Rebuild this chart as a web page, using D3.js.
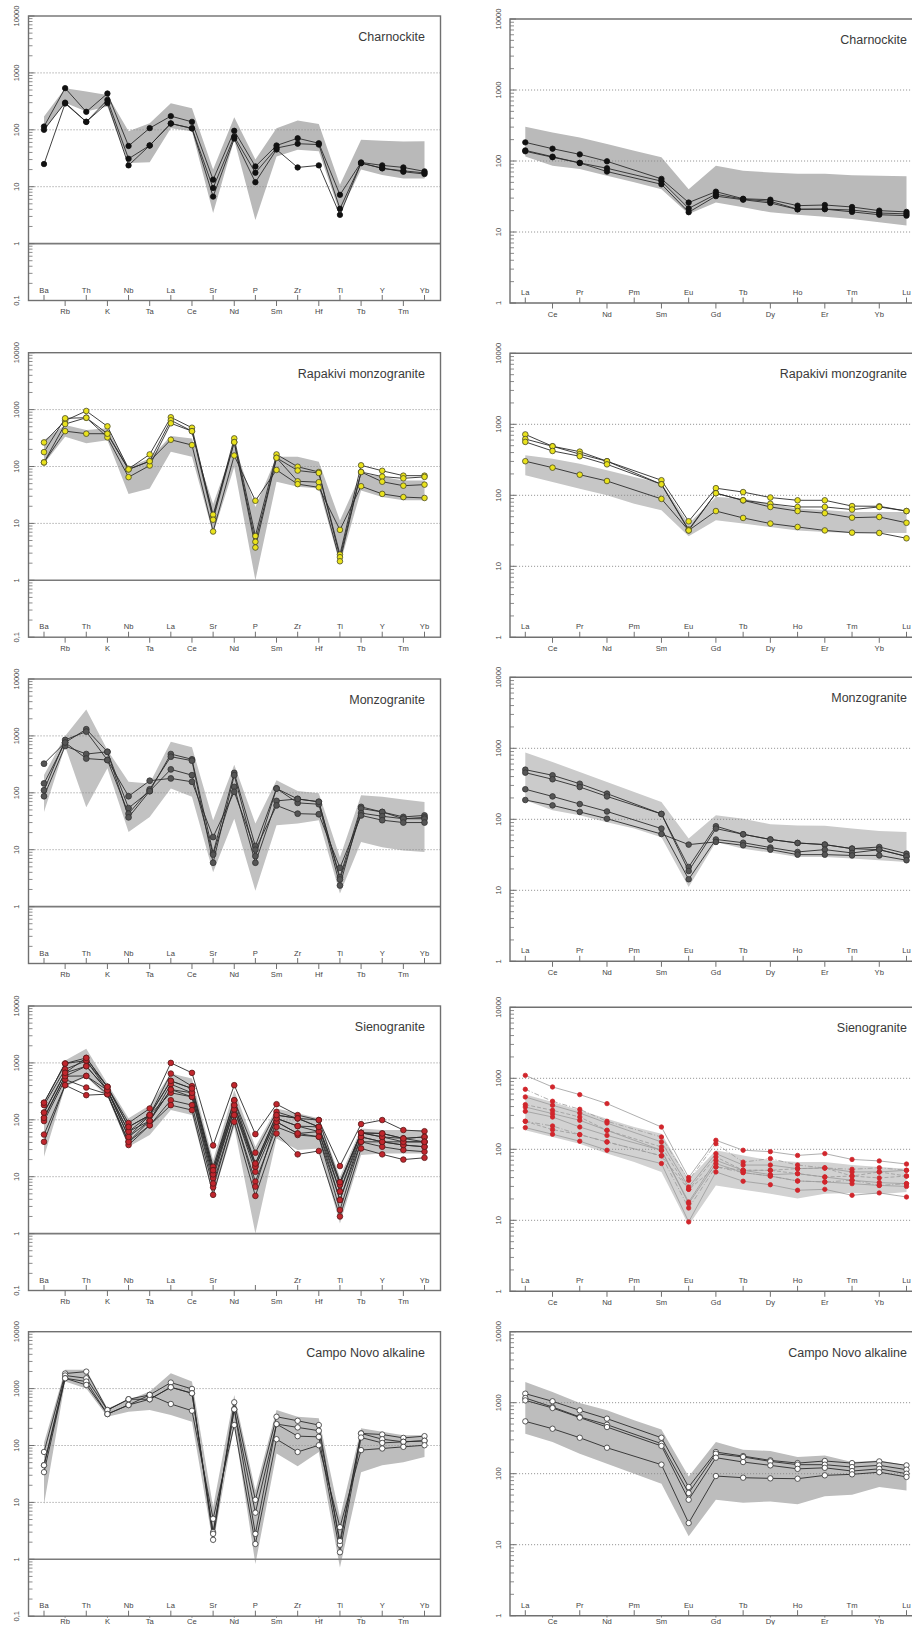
<!DOCTYPE html>
<html><head><meta charset="utf-8">
<script src="https://cdn.jsdelivr.net/npm/d3@7"></script>
<style>body{margin:0;background:#fff}svg{display:block;font-family:Arial,"Liberation Sans",sans-serif}</style>
</head><body><svg id="c" width="912" height="1625"></svg>
<script>
// ---------- categories & tick labels ----------
const spiderElements = ["Ba","Rb","Th","K","Nb","Ta","La","Ce","Sr","Nd","P","Sm","Zr","Hf","Ti","Tb","Y","Tm","Yb"];
const reeElements = ["La","Ce","Pr","Nd","Pm","Sm","Eu","Gd","Tb","Dy","Ho","Er","Tm","Yb","Lu"];
const spiderYTicks = [10000,1000,100,10,1,0.1];
const reeYTicks = [10000,1000,100,10,1];
const spiderYTickLabels = ["10000","1000","100","10","1","0,1"];
const reeYTickLabels = ["10000","1000","100","10","1"];
const titles = ["Charnockite","Rapakivi monzogranite","Monzogranite","Sienogranite","Campo Novo alkaline"];

// ---------- Charnockite ----------
const charnockiteSpider = [
 [114,540,207,434,52,107,174,138,13.3,96,22.7,53,71,58,7.2,26.7,23.7,21.8,18.6],
 [100,300,138,336,31,53,129,106,9.5,76,17.6,47.7,57,55,4.1,26,21.2,18.3,16.7],
 [25,290,138,295,23.7,53,129,106,6.7,70,12,45,21.8,23.7,3.2,26,21,19,17.5]
];
const charnockiteSpiderUpper = [171,540,470,410,94,130,293,240,20,167,30,107,145,127,10.8,67,64,62,63];
const charnockiteSpiderLower = [96,300,210,257,26,27,107,94,3.45,67,2.6,34,44.6,42,3.45,20,16,14,14];
const charnockiteRee = [
 [183,149,124,99,null,56,26,37,29.4,28.5,23.5,24,22.5,20,19.2],
 [141,115,94,79,null,52,21.5,34,29,27,21,21,20.4,18.5,18],
 [137,113,94,71,null,47,19,32,28.5,25.6,20.8,21,19.2,17.5,17]
];
const charnockiteReeUpper = [303,253,215,174,140,113,40,86,73,69,66,66,63,62,61];
const charnockiteReeLower = [116,86,77,62,50,40,17.9,26,22.3,18.9,17.5,16.4,15.3,13.7,12.3];

// ---------- Rapakivi monzogranite ----------
const rapakiviSpider = [
 [265,640,946,508,91,163,733,480,12.8,312,6,163,99,80,2.84,105,84,69,69],
 [179,703,720,377,89,124,650,418,14.2,268,4.75,142,85,77,2.55,80,66.5,62,65.7],
 [118,558,720,325,65,104,575,418,11.6,268,3.77,142,55,53,2.16,80,54,46,48],
 [118,418,377,377,89,124,295,238,7.2,156,25,87,49,43,7.7,45,33,29,28]
];
const rapakiviSpiderUpper = [292,537,437,470,98,138,343,310,22,238,19.5,148,148,121,11.3,75,66,57,57];
const rapakiviSpiderLower = [112,334,255,290,33,41,182,148,6.6,98,1,54,44,41,1.94,38,29,25.5,25.5];
const rapakiviRee = [
 [720,490,412,302,null,163,43,126,111,93,85,85,70.5,70,60],
 [620,490,380,302,null,143,33,107,85,76,68.5,68.5,63,68.5,60],
 [565,421,355,273,null,143,32,107,85,68.5,60,56,48.4,49.5,41],
 [302,245,195,159,null,89,32,60,48,40,35.8,32,29.8,29.5,24.8]
];
const rapakiviReeUpper = [366,328,279,225,181,148,40,95,90,76,65,62,58,58,58];
const rapakiviReeLower = [191,154,124,100,76,61.5,26.4,44.6,40,35.8,32,30.5,29.5,29.5,29.5];

// ---------- Monzogranite ----------
const monzograniteSpider = [
 [146,765,1310,525,54,107,480,388,8.7,224,11.6,119,78,69.5,3.3,56.6,46,37.7,40],
 [111,850,1190,377,43,115,431,367,5.9,204,7.7,119,66.5,63,2.35,53,46,35,37],
 [87,663,480,525,37,107,258,204,8.2,127,5.9,72,78,69.5,3.0,44,38.7,35,35],
 [325,765,400,377,87,163,179,156,16.7,104,10,60,43,42,4.8,40,33,30,30]
];
const monzograniteSpiderUpper = [205,1000,2900,565,156,146,790,630,33,310,29,167,108,98,7.4,91,85,76,69];
const monzograniteSpiderLower = [46,650,56,270,20.5,37.7,119,85,4.0,35,1.9,27,29,33,1.7,13.6,11,9.7,9.1];
const monzograniteRee = [
 [500,417,317,230,null,119,21.3,80,61.5,52,46.4,44,38.6,40.7,32.8],
 [454,366,285,210,null,119,18.7,74,61.5,52,46.4,44,38.6,37.4,30],
 [265,210,164,129,null,74,14.3,52,46.8,40,34.7,37.4,33.6,37.4,30],
 [187,157,127,102,null,62,44,48,43,37.4,31.8,31.8,31,31,26.5]
];
const monzograniteReeUpper = [870,640,465,336,243,175,53.5,114,102,85,82,81,74,68.6,66];
const monzograniteReeLower = [185,134,114,91,74,56,11.1,48,38.6,34,29.5,29.5,28,26.5,25];

// ---------- Sienogranite ----------
const sienograniteSpider = [
 [199,973,1224,380,88,158,1000,668,35.5,406,56,188,121,99,15.4,84,99,66,63],
 [181,774,1084,380,75,121,650,390,15,221,26.4,138,106,99,8,59,57.5,47,50],
 [134,668,875,331,62,121,483,355,13,181,17,121,106,75,7.2,59,50,47,50],
 [108,584,590,331,50,96,422,298,11,152,15,106,77.5,62,5.5,50,41,41,41],
 [95,510,369,282,41,96,340,253,9.4,152,12.2,92,57.5,62,3.9,41,41,36,33.6],
 [55,406,271,282,36,80,221,181,6.5,121,8.2,75,54,50.4,2.6,41,33.6,29.4,27.5],
 [41,406,590,282,41,80,181,148,4.8,92,4.6,57.5,24.7,28.3,2,31.4,24.7,20,21.5],
 [200,973,1100,331,50,121,298,253,7.6,121,6.7,92,57.5,50.4,3.9,50,41,36,33.6],
 [108,584,875,331,62,96,340,298,11,181,15,106,77.5,75,5.5,59,50,41,41],
 [134,668,1224,380,75,121,483,355,13,221,17,121,106,75,8,59,57.5,47,41]
];
const sienograniteSpiderUpper = [181,1100,1780,435,106,181,650,530,19.6,331,33.6,158,130,106,10,70,66,66,66];
const sienograniteSpiderLower = [22.4,380,568,253,33.6,54,148,121,4.5,75,1,47,29.4,31.4,1.5,24,25.6,25.6,25.6];
const sienograniteRee = [
 [1100,755,589,440,null,206,40,134,97,92.7,82,87,72,68.6,62],
 [700,475,366,248,null,149,36.6,120,66,74,60,54.6,52.3,55,50.6],
 [546,417,324,234,null,127,29.4,87,60,60,53.4,54.6,48,48,50.6],
 [426,354,285,185,null,108,27.3,78,50.6,50.6,45.4,40.7,42,39.5,42],
 [394,318,256,185,null,97,18.1,70,50.6,44,45.4,40.7,36.6,34,32.8],
 [343,285,206,157,null,97,17.2,63,47,42,35.8,34.7,32.8,31,30],
 [248,213,161,127,null,81,14.9,56.5,47,42,35.8,34.7,36.6,31,32.8],
 [202,163,130,97,null,63,9.5,48,35.5,31.7,26.5,27.3,22.5,24.3,21.3],
 [248,189,161,127,null,81,27.3,56.5,50.6,50.6,53.4,54.6,42,48,42]
];
const sienograniteReeUpper = [589,464,354,270,206,166,38,97,82,70,66,66,60,56.5,53.4];
const sienograniteReeLower = [185,149,120,87,66,48,8.5,31,27,23.7,20.2,23.7,24.3,23.3,25];

// ---------- Campo Novo alkaline ----------
const campoNovoSpider = [
 [77,1840,1990,420,650,775,1277,987,2.2,575,11.1,320,272,229,1.8,163,156,136,146],
 [45,1700,1520,420,650,650,1057,828,3,432,6.6,238,208,182,2.1,163,129,116,121],
 [34,1520,1330,357,515,650,1057,828,2.8,432,2.8,238,146,142,1.33,138,111,116,121],
 [45,1520,1160,357,515,775,537,408,5.15,229,1.86,129,77,101,3.67,83,88.6,94.7,101]
];
const campoNovoSpiderUpper = [112,2140,2140,450,630,890,1860,1330,8.3,775,16.3,420,320,300,5.5,200,174,152,152];
const campoNovoSpiderLower = [9.2,1330,1000,320,393,420,343,262,1.86,229,0.83,72,43,77,0.72,34,45,51,63];
const campoNovoRee = [
 [1340,1047,780,596,null,321,65,202,177,154,141,151,141,149,131],
 [1164,870,630,490,null,265,53.4,191,172,149,134,134,124,131,114],
 [1078,842,617,454,null,246,43,168,146,131,117,121,109,117,100],
 [546,430,321,232,null,134,20.2,92.7,87.8,86,85,94.8,98,105,90]
];
const campoNovoReeUpper = [1950,1420,990,780,565,421,91.6,279,218,209,172,181,146,154,131];
const campoNovoReeLower = [366,279,191,138,100,72,13.1,43,39,40.7,37,48,50.6,65,58];

// ---------- drawing ----------
const svg = d3.select("#c");
const FONT_TICK = 7.6;
const PAGE_H = 1625;

function drawPanel(p){
  const isSp = p.type === "spider";
  const els = isSp ? spiderElements : reeElements;
  const left = isSp ? 28.5 : 510;
  const right = isSp ? 440.5 : 930;
  const top = p.top, bottom = p.top + (isSp ? 284.5 : 284);
  const yMin = isSp ? 0.1 : 1;
  const x = d3.scalePoint().domain(els).range(isSp ? [44, 424.5] : [525.3, 906.5]);
  const y = d3.scaleLog().domain([yMin, 10000]).range([bottom, top]);
  const g = svg.append("g");

  // comparison field
  const area = d3.area()
    .x((d, i) => x(els[i]))
    .y0((d, i) => y(p.lower[i]))
    .y1(d => y(d));
  g.append("path").datum(p.upper).attr("d", area).attr("fill", p.fieldColor).attr("stroke", "none");

  // grid lines
  [10, 100, 1000].forEach(v => {
    g.append("line").attr("x1", left).attr("x2", right).attr("y1", y(v)).attr("y2", y(v))
      .attr("stroke", "#8a8a8a").attr("stroke-width", 0.9).attr("stroke-dasharray", "1.1,1.9");
  });
  if (isSp) {
    g.append("line").attr("x1", left).attr("x2", right).attr("y1", y(1)).attr("y2", y(1))
      .attr("stroke", "#7a7a7a").attr("stroke-width", 1.6);
  }

  // frame
  if (isSp) {
    g.append("rect").attr("x", left).attr("y", top).attr("width", right - left).attr("height", bottom - top)
      .attr("fill", "none").attr("stroke", "#707070").attr("stroke-width", 1.4);
  } else {
    g.append("path").attr("d", `M${right},${top}H${left}V${bottom}H${right}`)
      .attr("fill", "none").attr("stroke", "#707070").attr("stroke-width", 1.4);
  }

  // y ticks
  const ticks = isSp ? spiderYTicks : reeYTicks;
  const tickLabels = isSp ? spiderYTickLabels : reeYTickLabels;
  ticks.forEach((v, i) => {
    g.append("line").attr("x1", left).attr("x2", left + 6).attr("y1", y(v)).attr("y2", y(v))
      .attr("stroke", "#707070").attr("stroke-width", 1);
    if (v < 10000) {
      for (let k = 2; k <= 9; k++) {
        const mv = v * k;
        g.append("line").attr("x1", left).attr("x2", left + 4).attr("y1", y(mv)).attr("y2", y(mv))
          .attr("stroke", "#707070").attr("stroke-width", 0.8);
      }
    }
    if (!(p.hideYLabels || []).includes(tickLabels[i])) {
      g.append("text").attr("transform", `translate(${left - (isSp ? 10 : 9.5)},${y(v)}) rotate(-90)`)
        .attr("text-anchor", "middle").attr("font-size", FONT_TICK).attr("fill", "#444")
        .text(tickLabels[i]);
    }
  });

  // x ticks & labels
  const belowY = Math.min(bottom + 13.5, PAGE_H - 1);
  const tickLen = Math.min(5.5, belowY - bottom - 6.5);
  els.forEach((e, i) => {
    const xp = x(e);
    if (i % 2 === 0) {
      g.append("line").attr("x1", xp).attr("x2", xp).attr("y1", bottom - 5.5).attr("y2", bottom)
        .attr("stroke", "#707070").attr("stroke-width", 1);
      if (!(p.hideXLabels || []).includes(e))
        g.append("text").attr("x", xp).attr("y", bottom - 8).attr("text-anchor", "middle")
          .attr("font-size", FONT_TICK).attr("fill", "#444").text(e);
    } else {
      g.append("line").attr("x1", xp).attr("x2", xp).attr("y1", bottom).attr("y2", bottom + Math.max(tickLen, 1.5))
        .attr("stroke", "#707070").attr("stroke-width", 1);
      g.append("text").attr("x", xp).attr("y", belowY).attr("text-anchor", "middle")
        .attr("font-size", FONT_TICK).attr("fill", "#444").text(e);
    }
  });

  // title
  g.append("text").attr("x", isSp ? 425 : 907).attr("y", top + 25).attr("text-anchor", "end")
    .attr("font-size", 12.5).attr("fill", "#3a3a3a").text(p.title);

  // samples
  const line = d3.line();
  p.samples.forEach((s, si) => {
    const pts = els.map((e, i) => [x(e), s[i]]).filter(d => d[1] != null).map(d => [d[0], y(d[1])]);
    g.append("path").attr("d", line(pts)).attr("fill", "none")
      .attr("stroke", p.lineColor).attr("stroke-width", p.lineWidth)
      .attr("stroke-dasharray", p.dashes ? p.dashes[si % p.dashes.length] : null);
  });
  p.samples.forEach(s => {
    const pts = els.map((e, i) => [x(e), s[i]]).filter(d => d[1] != null);
    g.selectAll(null).data(pts).enter().append("circle")
      .attr("cx", d => d[0]).attr("cy", d => y(d[1])).attr("r", p.r)
      .attr("fill", p.markerFill).attr("stroke", p.markerStroke).attr("stroke-width", p.markerStrokeWidth);
  });
}

const leftTops = [16, 352.7, 679, 1006, 1331.7];
const rightTops = [19, 353.3, 677.3, 1007.3, 1331.7];

const spiderSets = [
  {samples: charnockiteSpider, upper: charnockiteSpiderUpper, lower: charnockiteSpiderLower,
   markerFill: "#111", markerStroke: "#111", r: 2.7, fieldColor: "#b9b9b9"},
  {samples: rapakiviSpider, upper: rapakiviSpiderUpper, lower: rapakiviSpiderLower,
   markerFill: "#e9e21c", markerStroke: "#4a4a2a", r: 2.8, fieldColor: "#bdbdbd"},
  {samples: monzograniteSpider, upper: monzograniteSpiderUpper, lower: monzograniteSpiderLower,
   markerFill: "#555", markerStroke: "#333", r: 2.9, fieldColor: "#c2c2c2", hideYLabels: ["0,1"]},
  {samples: sienograniteSpider, upper: sienograniteSpiderUpper, lower: sienograniteSpiderLower,
   markerFill: "#c0262d", markerStroke: "#5a1a1a", r: 2.8, fieldColor: "#c3c3c3", hideXLabels: ["P"]},
  {samples: campoNovoSpider, upper: campoNovoSpiderUpper, lower: campoNovoSpiderLower,
   markerFill: "#fff", markerStroke: "#333", r: 2.7, fieldColor: "#bdbdbd"}
];
const reeSets = [
  {samples: charnockiteRee, upper: charnockiteReeUpper, lower: charnockiteReeLower,
   markerFill: "#111", markerStroke: "#111", r: 2.7, fieldColor: "#bababa"},
  {samples: rapakiviRee, upper: rapakiviReeUpper, lower: rapakiviReeLower,
   markerFill: "#e9e21c", markerStroke: "#4a4a2a", r: 2.8, fieldColor: "#c6c6c6"},
  {samples: monzograniteRee, upper: monzograniteReeUpper, lower: monzograniteReeLower,
   markerFill: "#555", markerStroke: "#333", r: 2.8, fieldColor: "#cbcbcb"},
  {samples: sienograniteRee, upper: sienograniteReeUpper, lower: sienograniteReeLower,
   markerFill: "#d1262c", markerStroke: "#d1262c", r: 2.2, fieldColor: "#d2d2d2",
   lineColor: "#9a9a9a", lineWidth: 0.8, dashes: [null, "5,2,1,2", null, "4,2", null]},
  {samples: campoNovoRee, upper: campoNovoReeUpper, lower: campoNovoReeLower,
   markerFill: "#fff", markerStroke: "#333", r: 2.7, fieldColor: "#bdbdbd"}
];

spiderSets.forEach((s, i) => drawPanel(Object.assign({
  type: "spider", top: leftTops[i], title: titles[i],
  lineColor: "#2b2b2b", lineWidth: 0.9, markerStrokeWidth: 0.8
}, s)));
reeSets.forEach((s, i) => drawPanel(Object.assign({
  type: "ree", top: rightTops[i], title: titles[i],
  lineColor: "#2b2b2b", lineWidth: 0.9, markerStrokeWidth: 0.8
}, s)));
</script></body></html>
